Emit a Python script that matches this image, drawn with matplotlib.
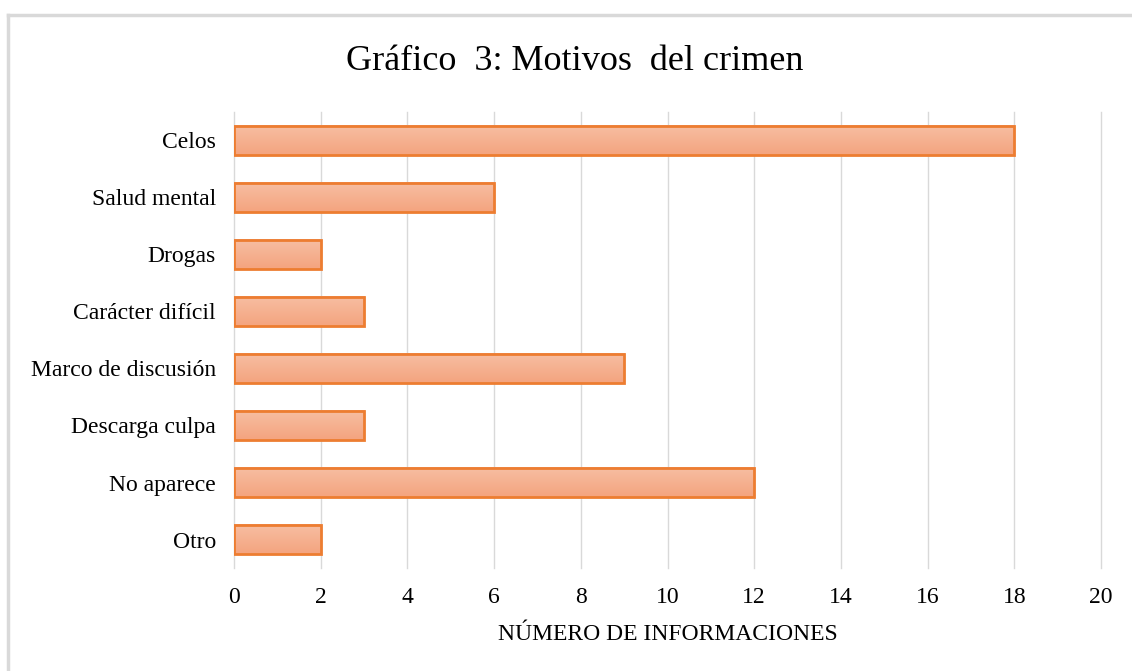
import matplotlib.pyplot as plt
import numpy as np
from matplotlib.colors import LinearSegmentedColormap

# data
categorias = ['Celos', 'Salud mental', 'Drogas', 'Carácter difícil',
              'Marco de discusión', 'Descarga culpa', 'No aparece', 'Otro']
valores = [18, 6, 2, 3, 9, 3, 12, 2]
ticks_x = list(range(0, 21, 2))

plt.rcParams['font.family'] = ['Liberation Serif', 'DejaVu Serif']

fig = plt.figure(figsize=(11.32, 6.71), dpi=100)
ax = fig.add_axes([234 / 1132, 1 - 568 / 671, 867 / 1132, 456 / 671])

y = np.arange(len(categorias))
alto = 0.52
bars = ax.barh(y, valores, height=alto, color='none', edgecolor='#ed7d31',
               linewidth=2, zorder=3)

# vertical gradient fill inside each bar
grad = np.linspace(0, 1, 50).reshape(-1, 1)
cmap = LinearSegmentedColormap.from_list('g', ['#f7bea2', '#f4a47f'])
for b in bars:
    x0, y0 = b.get_x(), b.get_y()
    w, h = b.get_width(), b.get_height()
    ax.imshow(grad, extent=[x0, x0 + w, y0 + h, y0], cmap=cmap,
              aspect='auto', zorder=2, origin='upper')

ax.set_xlim(0, 20)
ax.set_ylim(len(categorias) - 0.5, -0.5)
ax.set_xticks(ticks_x)
ax.set_yticks(y)
ax.set_yticklabels(categorias, fontsize=17)
ax.tick_params(axis='x', labelsize=17, length=0, pad=14)
ax.tick_params(axis='y', length=0, pad=13)
ax.grid(axis='x', color='#d9d9d9', linewidth=1, zorder=0)
for gl in ax.get_xgridlines():
    gl.set_clip_on(False)
for s in ax.spines.values():
    s.set_visible(False)
ax.set_xlabel('NÚMERO DE INFORMACIONES', fontsize=17, labelpad=11)

fig.text(575 / 1132, 1 - 62 / 671, 'Gráfico  3: Motivos  del crimen', ha='center',
         va='center', fontsize=26)

# outer frame (top and left edges visible)
fig.add_artist(plt.Line2D([8 / 1132, 1], [1 - 15 / 671, 1 - 15 / 671],
                          color='#d9d9d9', linewidth=2.5, transform=fig.transFigure))
fig.add_artist(plt.Line2D([8 / 1132, 8 / 1132], [0, 1 - 15 / 671],
                          color='#d9d9d9', linewidth=2.5, transform=fig.transFigure))

fig.savefig('out.png', dpi=100)
